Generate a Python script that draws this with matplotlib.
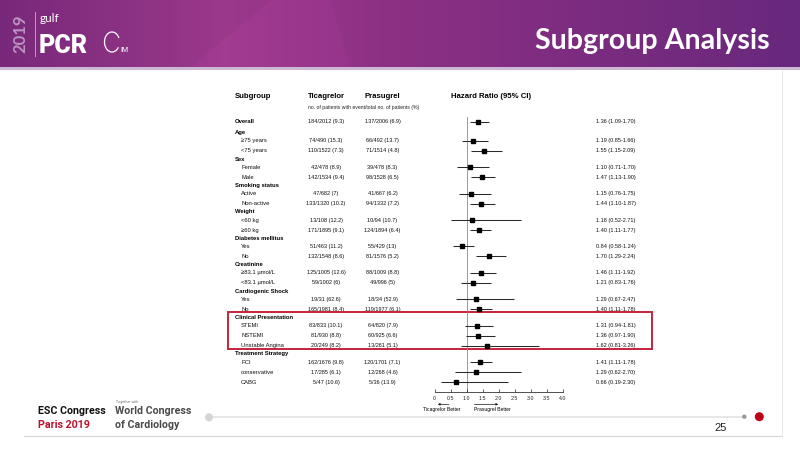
import numpy as np
import matplotlib
matplotlib.use("Agg")
import matplotlib.pyplot as plt
from matplotlib.patches import Rectangle, Circle, Arc

# ---------------- data ----------------
labels = ["Overall",
          "Age", "\u226575 years", "<75 years",
          "Sex", "Female", "Male",
          "Smoking status", "Active", "Non-active",
          "Weight", "<60 kg", "\u226560 kg",
          "Diabetes mellitus", "Yes", "No",
          "Creatinine", "\u226583.1 \u00b5mol/L", "<83.1 \u00b5mol/L",
          "Cardiogenic Shock", "Yes", "No",
          "Clinical Presentation", "STEMI", "NSTEMI", "Unstable Angina",
          "Treatment Strategy", "PCI", "conservative", "CABG"]
kinds = ["total",
         "head", "item", "item",
         "head", "item", "item",
         "head", "item", "item",
         "head", "item", "item",
         "head", "item", "item",
         "head", "item", "item",
         "head", "item", "item",
         "head", "item", "item", "item",
         "head", "item", "item", "item"]

ticagrelor = ["184/2012 (9.3)", "74/490 (15.3)", "110/1522 (7.3)", "42/478 (8.9)",
              "142/1534 (9.4)", "47/682 (7)", "133/1320 (10.2)", "13/108 (12.2)",
              "171/1895 (9.1)", "51/463 (11.2)", "132/1548 (8.6)", "125/1005 (12.6)",
              "59/1002 (6)", "19/31 (62.6)", "165/1981 (8.4)", "83/833 (10.1)",
              "81/930 (8.8)", "20/249 (8.2)", "162/1676 (9.8)", "17/285 (6.1)",
              "5/47 (10.6)"]
prasugrel = ["137/2006 (6.9)", "66/492 (13.7)", "71/1514 (4.8)", "39/478 (8.3)",
             "98/1528 (6.5)", "41/667 (6.2)", "94/1332 (7.2)", "10/94 (10.7)",
             "124/1894 (6.4)", "55/429 (13)", "81/1576 (5.2)", "88/1009 (8.8)",
             "49/996 (5)", "18/34 (52.9)", "119/1977 (6.1)", "64/820 (7.9)",
             "60/925 (6.6)", "13/261 (5.1)", "120/1701 (7.1)", "12/268 (4.6)",
             "5/36 (13.9)"]
hr = [1.36, 1.19, 1.55, 1.10, 1.47, 1.15, 1.44, 1.18, 1.40, 0.84, 1.70,
      1.46, 1.21, 1.29, 1.40, 1.31, 1.36, 1.62, 1.41, 1.29, 0.66]
lo = [1.09, 0.85, 1.15, 0.71, 1.13, 0.76, 1.10, 0.52, 1.11, 0.58, 1.29,
      1.11, 0.83, 0.67, 1.11, 0.94, 0.97, 0.81, 1.11, 0.62, 0.19]
hi = [1.70, 1.66, 2.09, 1.70, 1.90, 1.75, 1.87, 2.71, 1.77, 1.24, 2.24,
      1.92, 1.76, 2.47, 1.78, 1.81, 1.90, 3.26, 1.78, 2.70, 2.30]
xticks = [0, 0.5, 1.0, 1.5, 2.0, 2.5, 3.0, 3.5, 4.0]
xticklabels = ["0", "0.5", "1.0", "1.5", "2.0", "2.5", "3.0", "3.5", "4.0"]

# ---------------- layout ----------------
W, H = 800, 450
FT = "Liberation Sans"
fig = plt.figure(figsize=(8, 4.5), dpi=100)
ax = fig.add_axes([0, 0, 1, 1])
ax.set_xlim(0, W)
ax.set_ylim(H, 0)
ax.axis("off")

# header band gradient
band_h = 67
xs = np.linspace(0, 1, W)
stops_x = [0.0, 0.28, 0.5, 0.75, 1.0]
stops_c = np.array([[120, 40, 122], [155, 57, 139], [140, 48, 132],
                    [122, 44, 128], [104, 40, 124]]) / 255.0
row = np.stack([np.interp(xs, stops_x, stops_c[:, k]) for k in range(3)], axis=1)
img = np.repeat(row[None, :, :], band_h, axis=0)
yy, xx = np.mgrid[0:band_h, 0:W]
wedge = (xx > 190 + (band_h - yy) * 1.2) & (xx < 330 + yy * 0.3)
img[wedge] = np.clip(img[wedge] * 1.04, 0, 1)
ax.imshow(img, extent=(0, W, band_h, 0), aspect="auto", zorder=0, interpolation="bilinear")
ax.add_patch(Rectangle((0, band_h), W, 2.5, color="#cdb8d4", lw=0, zorder=1))

# logo
ax.text(20, 34, "2019", rotation=90, color="#b993c0", fontsize=12, fontweight="bold",
        family="Lato", ha="center", va="center")
ax.plot([34.5, 34.5], [12, 56], color="#b993c0", lw=0.8)
ax.text(40, 19, "gulf", color="white", fontsize=8.5, family="Lato", ha="left", va="center")
ax.text(39, 46, "PCR", color="white", fontsize=18, fontweight="heavy", family="Roboto",
        ha="left", va="center")
ax.add_patch(Arc((112, 42), 15, 20, theta1=40, theta2=330, color="white", lw=0.9))
ax.text(120, 51, "IM", color="white", fontsize=5, family="Roboto", ha="left", va="center")

# title
ax.text(770, 41, "Subgroup Analysis", color="white", fontsize=20.6, fontweight="bold",
        family="Lato", ha="right", va="center")

# column headers
ax.text(235, 96, "Subgroup", fontsize=5.6, fontweight="bold", family=FT, va="center")
ax.text(307.7, 96, "Ticagrelor", fontsize=5.6, fontweight="bold", family=FT, va="center")
ax.text(364.3, 96, "Prasugrel", fontsize=5.6, fontweight="bold", family=FT, va="center")
ax.text(450.7, 96, "Hazard Ratio (95% CI)", fontsize=5.6, fontweight="bold", family=FT, va="center")
ax.text(307.7, 107, "no. of patients with event/total no. of patients (%)", fontsize=3.7,
        family=FT, va="center", color="#222")

# row positions
ys_all = []
y = 121.7
for i, k in enumerate(kinds):
    if i > 0:
        if kinds[i - 1] == "total":
            y += 11.0
        elif k == "head" or kinds[i - 1] == "head":
            y += 8.2
        else:
            y += 10.0
    ys_all.append(y)

data_y = []
for lab, k, yv in zip(labels, kinds, ys_all):
    if k == "head":
        ax.text(235, yv, lab, fontsize=4.2, fontweight="bold", family=FT, va="center")
    elif k == "total":
        ax.text(235, yv, lab, fontsize=4.2, fontweight="bold", family=FT, va="center")
        data_y.append(yv)
    else:
        ax.text(241, yv, lab, fontsize=4.2, family=FT, va="center", color="#111")
        data_y.append(yv)

for yv, t, p, h, l, u in zip(data_y, ticagrelor, prasugrel, hr, lo, hi):
    ax.text(326, yv, t, fontsize=4.0, family=FT, va="center", ha="center", color="#111")
    ax.text(382.5, yv, p, fontsize=4.0, family=FT, va="center", ha="center", color="#111")
    ax.text(596, yv, f"{h:.2f} ({l:.2f}-{u:.2f})", fontsize=4.0, family=FT, va="center",
            ha="left", color="#111")

# forest axes
x0, x1 = 434.7, 562.7
yb, yt = 391.7, 85
fx = fig.add_axes([x0 / W, 1 - yb / H, (x1 - x0) / W, (yb - yt) / H])
fx.set_xlim(0, 4)
fx.set_ylim(yb, yt)
fx.patch.set_alpha(0)
for s in ["top", "right", "left"]:
    fx.spines[s].set_visible(False)
fx.spines["bottom"].set_color("#333")
fx.spines["bottom"].set_linewidth(0.6)
fx.set_yticks([])
fx.set_xticks(xticks)
fx.set_xticklabels(xticklabels, fontsize=3.8, family=FT)
fx.tick_params(axis="x", direction="in", length=2.5, width=0.5, pad=3.2, colors="#222")
fx.plot([1, 1], [data_y[0] - 5, yb], color="#8a8a8a", lw=0.6, zorder=1)
fx.hlines(data_y, lo, hi, color="#2a2a2a", lw=0.75, zorder=2)
fx.plot(hr, data_y, "s", ms=2.3, color="black", zorder=3)

# arrows and labels
ax.annotate("", xy=(435, 404.3), xytext=(451.7, 404.3),
            arrowprops=dict(arrowstyle="-|>", lw=0.5, color="#111", mutation_scale=3))
ax.annotate("", xy=(501, 404.3), xytext=(471.7, 404.3),
            arrowprops=dict(arrowstyle="-|>", lw=0.5, color="#111", mutation_scale=3))
ax.text(441.5, 410, "Ticagrelor Better", fontsize=3.6, family=FT, ha="center", va="center")
ax.text(492, 410, "Prasugrel Better", fontsize=3.6, family=FT, ha="center", va="center")

# highlight box
ax.add_patch(Rectangle((228, 311.7), 424, 37.6, fill=False, ec="#c4223b", lw=1.4, zorder=5))

# footer
ax.text(38, 411.5, "ESC Congress", fontsize=7.7, fontweight="bold", family="Roboto",
        color="#111", va="center")
ax.text(38, 424.5, "Paris 2019", fontsize=7.7, fontweight="bold", family="Roboto",
        color="#c0102a", va="center")
ax.text(116, 401.7, "Together with", fontsize=2.6, family="Roboto", color="#777", va="center")
ax.text(115, 411.5, "World Congress", fontsize=7.7, fontweight="bold", family="Roboto",
        color="#4a4a4a", va="center")
ax.text(115, 424.5, "of Cardiology", fontsize=7.7, fontweight="bold", family="Roboto",
        color="#4a4a4a", va="center")
ax.plot([209, 744], [417, 417], color="#e0e0e0", lw=1.1, zorder=1)
ax.add_patch(Circle((209, 417.3), 4.0, color="#d4d4d4", lw=0, zorder=2))
ax.add_patch(Circle((744.3, 416.7), 2.2, color="#999999", lw=0, zorder=2))
ax.add_patch(Circle((759.3, 416.7), 4.5, color="#c00018", lw=0, zorder=2))
ax.text(721, 428, "25", fontsize=8, family="Liberation Sans", color="#222",
        ha="center", va="center")
ax.plot([24, 782], [436, 436], color="#d6d6d6", lw=0.8)
ax.plot([782, 782], [70, 436], color="#e8e8e8", lw=0.7)

fig.savefig("out.png", dpi=100)
